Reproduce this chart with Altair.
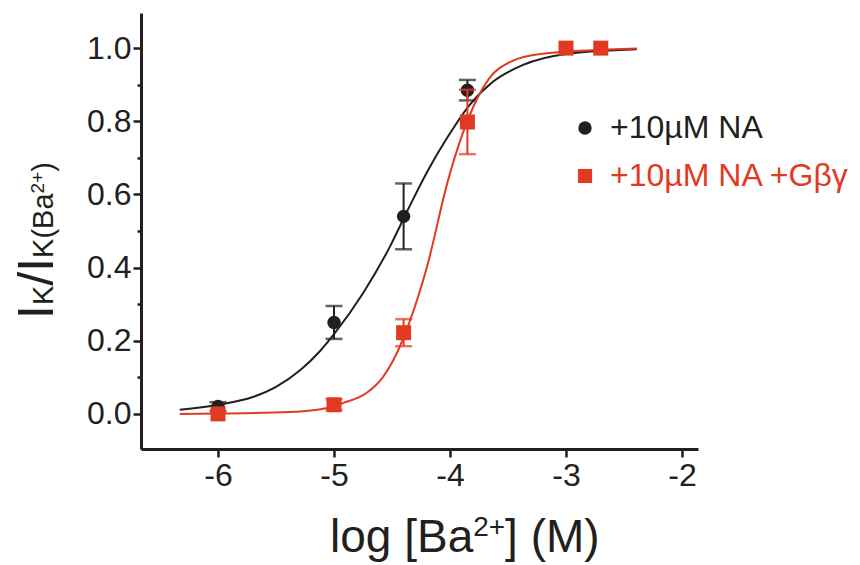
import altair as alt
import pandas as pd

# ---------------- data ----------------
dose_na = [-6.0, -5.0, -4.4, -3.85, -3.0, -2.7]
resp_na = [0.02, 0.25, 0.54, 0.885, 1.0, 1.0]
err_na = [0.012, 0.045, 0.09, 0.028, 0.0, 0.0]

dose_gbg = [-6.0, -5.0, -4.4, -3.85, -3.0, -2.7]
resp_gbg = [0.0, 0.025, 0.222, 0.798, 1.0, 1.0]
err_gbg = [0.0, 0.015, 0.037, 0.088, 0.0, 0.0]

fit_na_x = [-6.33, -6.0, -5.7, -5.5, -5.29, -5.12, -5.0, -4.75, -4.52, -4.36, -4.2,
            -4.03, -3.83, -3.63, -3.37, -3.0, -2.39]
fit_na_y = [0.011, 0.025, 0.046, 0.074, 0.12, 0.172, 0.218, 0.33, 0.456, 0.56, 0.66,
            0.752, 0.845, 0.908, 0.954, 0.984, 0.997]

fit_gbg_x = [-6.33, -6.0, -5.38, -5.06, -4.92, -4.72, -4.58, -4.46, -4.35, -4.2,
             -4.02, -3.91, -3.8, -3.66, -3.46, -3.22, -2.39]
fit_gbg_y = [0.0, 0.001, 0.005, 0.016, 0.03, 0.057, 0.10, 0.165, 0.25, 0.40,
             0.635, 0.749, 0.839, 0.918, 0.965, 0.984, 0.999]

x_ticks = [-6, -5, -4, -3, -2]
y_ticks = [0.0, 0.1, 0.2, 0.3, 0.4, 0.5, 0.6, 0.7, 0.8, 0.9, 1.0]

series_names = ["+10\u00b5M NA", "+10\u00b5M NA +G\u03b2\u03b3"]

# ---------------- styling ----------------
INK = "#231f20"
RED = "#e23a22"
FONT = "Liberation Sans"
W, H = 557, 436
X_DOM = [-6.664, -1.862]
Y_DOM = [-0.096, 1.096]

xs = alt.Scale(domain=X_DOM, nice=False, zero=False)
ys = alt.Scale(domain=Y_DOM, nice=False, zero=False)

x_axis = alt.Axis(values=x_ticks, title=None, labelExpr="'' + datum.value", tickSize=8, tickWidth=2.5,
                  domainWidth=3, domainColor=INK, tickColor=INK, labelColor=INK,
                  labelFont=FONT, labelFontSize=32, labelPadding=3, grid=False)
y_axis = alt.Axis(values=y_ticks, title=None,
                  labelExpr="abs(round(datum.value*10)) % 2 == 0 ? format(datum.value, '.1f') : ''",
                  tickSize={"condition": {"test": "abs(round(datum.value*10)) % 2 == 0", "value": 8}, "value": 4},
                  tickWidth=2.5, domainWidth=3, domainColor=INK, tickColor=INK, labelColor=INK,
                  labelFont=FONT, labelFontSize=32, labelPadding=2, grid=False)


def X(field):
    return alt.X(field, scale=xs, axis=x_axis)


def Y(field):
    return alt.Y(field, scale=ys, axis=y_axis)


def points_df(x, y, e):
    return pd.DataFrame({"dose": x, "resp": y,
                         "lo": [a - b for a, b in zip(y, e)],
                         "hi": [a + b for a, b in zip(y, e)]})


def curve(x, y, color):
    df = pd.DataFrame({"dose": x, "resp": y})
    return alt.Chart(df).mark_line(color=color, strokeWidth=2, interpolate="monotone").encode(
        x=X("dose:Q"), y=Y("resp:Q"))


def errs(df, color):
    d = df[df["hi"] > df["lo"]]
    rule = alt.Chart(d).mark_rule(color=color, strokeWidth=2).encode(
        x=X("dose:Q"), y=Y("lo:Q"), y2="hi:Q")
    cap_lo = alt.Chart(d).mark_tick(color=color, orient="horizontal", size=17, thickness=2.5).encode(
        x=X("dose:Q"), y=Y("lo:Q"))
    cap_hi = alt.Chart(d).mark_tick(color=color, orient="horizontal", size=17, thickness=2.5).encode(
        x=X("dose:Q"), y=Y("hi:Q"))
    return [rule, cap_lo, cap_hi]


def text_piece(text, x, y, size, color=INK, angle=0, baseline="alphabetic"):
    return alt.Chart(alt.Data(values=[{}])).mark_text(
        text=text, font=FONT, fontSize=size, color=color, angle=angle,
        align="left", baseline=baseline).encode(x=alt.value(x), y=alt.value(y))


# Arial / Liberation Sans advance widths (em)
ADV = {"I": .278, "K": .667, "/": .278, "(": .333, ")": .333, "B": .667, "a": .556,
       "2": .556, "+": .584, "l": .222, "o": .556, "g": .556, " ": .278, "[": .278,
       "]": .278, "M": .833}


def adv(s, size):
    return sum(ADV[c] for c in s) * size


df_na = points_df(dose_na, resp_na, err_na)
df_gbg = points_df(dose_gbg, resp_gbg, err_gbg)

black_pts = alt.Chart(df_na).mark_point(filled=True, shape="circle", size=180, color=INK, opacity=1).encode(
    x=X("dose:Q"), y=Y("resp:Q"))
red_pts = alt.Chart(df_gbg).mark_point(filled=True, shape="square", size=225, color=RED, opacity=1).encode(
    x=X("dose:Q"), y=Y("resp:Q"))

layers = [curve(fit_na_x, fit_na_y, INK)] + errs(df_na, INK) + [black_pts] + \
         [curve(fit_gbg_x, fit_gbg_y, RED)] + errs(df_gbg, RED) + [red_pts]

# ---- legend ----
leg_x, leg_y1, leg_y2 = 444, 115, 163
layers.append(alt.Chart(alt.Data(values=[{}])).mark_point(filled=True, shape="circle", size=180, color=INK, opacity=1)
              .encode(x=alt.value(leg_x), y=alt.value(leg_y1)))
layers.append(alt.Chart(alt.Data(values=[{}])).mark_point(filled=True, shape="square", size=200, color=RED, opacity=1)
              .encode(x=alt.value(leg_x), y=alt.value(leg_y2)))
layers.append(text_piece(series_names[0], leg_x + 25, leg_y1, 32, INK, baseline="middle"))
layers.append(text_piece(series_names[1], leg_x + 25, leg_y2, 32, RED, baseline="middle"))

# ---- y title: I_K / I_K(Ba^2+) rotated ----
BIG, SUB, SUP = 50, 29, 19
base_x = -88
pos = 306
for txt, sz, raise_ in [("I", BIG, 0), ("K", SUB, 0), ("/", BIG, 0), ("I", BIG, 0),
                        ("K(Ba", SUB, 0), ("2+", SUP, 9), (")", SUB, 0)]:
    layers.append(text_piece(txt, base_x - raise_, pos, sz, INK, angle=270))
    pos -= adv(txt, sz)

# ---- x title: log [Ba^2+] (M) ----
pos = 189
base_y = 539
for txt, sz, raise_ in [("log [Ba", 46, 0), ("2+", 28, 16), ("] (M)", 46, 0)]:
    layers.append(text_piece(txt, pos, base_y - raise_, sz, INK))
    pos += adv(txt, sz)

chart = alt.layer(*layers).properties(
    width=W, height=H,
    autosize=alt.AutoSizeParams(type="none"),
    padding={"left": 133, "top": 5, "right": 154, "bottom": 114},
).configure(background="white").configure_view(stroke=None)

chart.save("out.html", embed_options={"renderer": "svg", "actions": False})
